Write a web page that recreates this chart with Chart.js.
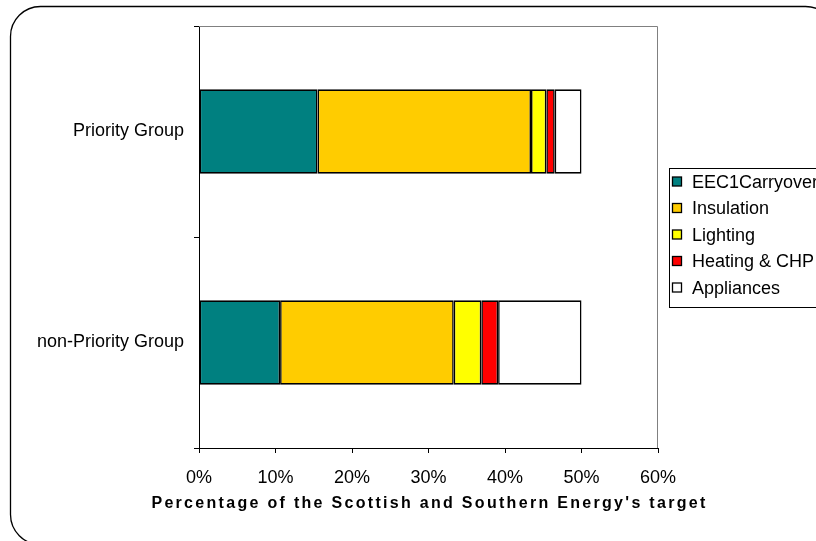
<!DOCTYPE html>
<html>
<head>
<meta charset="utf-8">
<script src="https://cdn.jsdelivr.net/npm/chart.js@4"></script>
<style>
  html, body { margin: 0; padding: 0; background: #fff; }
  canvas { display: block; }
</style>
</head>
<body>
<canvas id="energyChart" width="816" height="541"></canvas>
<script>
// categories (top to bottom)
const groups = ['Priority Group', 'non-Priority Group'];

// series values, % of target
const carryover  = [15.5, 10.6];
const insulation = [27.9, 22.7];
const lighting   = [2.0, 3.6];
const heating    = [1.1, 2.2];
const appliances = [3.5, 10.9];

const seriesNames = ['EEC1Carryover', 'Insulation', 'Lighting', 'Heating & CHP', 'Appliances'];
const seriesColors = ['#008080', '#FFCC00', '#FFFF00', '#FF0000', '#FFFFFF'];

const xTickLabels = ['0%', '10%', '20%', '30%', '40%', '50%', '60%'];
const xTitle = "Percentage of the Scottish and Southern Energy's target";

const FONT = '"Liberation Sans", Arial, sans-serif';

const frame = {
  id: 'frame',
  afterDraw(chart) {
    const c = chart.ctx;
    const a = chart.chartArea;
    c.save();

    // gray plot border, top and right
    c.strokeStyle = '#808080';
    c.lineWidth = 1;
    c.beginPath();
    c.moveTo(a.left, a.top + 0.5);
    c.lineTo(a.right - 0.5, a.top + 0.5);
    c.lineTo(a.right - 0.5, a.bottom);
    c.stroke();

    // axis title
    c.fillStyle = '#000';
    c.font = 'bold 16px ' + FONT;
    c.letterSpacing = '2.3px';
    c.textAlign = 'center';
    c.textBaseline = 'middle';
    c.fillText(xTitle, (a.left + a.right) / 2 + 1, 504);
    c.letterSpacing = '0px';

    // legend
    c.strokeStyle = '#000';
    c.strokeRect(669.5, 168.5, 200, 139);
    c.font = '18px ' + FONT;
    c.textAlign = 'left';
    chart.data.datasets.forEach((ds, i) => {
      const y = 183 + i * 26.5;
      c.fillStyle = ds.backgroundColor;
      c.fillRect(672.5, y - 6, 9, 9);
      c.lineWidth = 1.3;
      c.strokeRect(672.5, y - 6, 9, 9);
      c.fillStyle = '#000';
      c.fillText(ds.label, 692, y);
    });

    // rounded outer border
    c.lineWidth = 1.3;
    c.beginPath();
    c.roundRect(10.5, 6.5, 825, 538, 30);
    c.stroke();
    c.restore();
  }
};

const allValues = [carryover, insulation, lighting, heating, appliances];

new Chart(document.getElementById('energyChart'), {
  type: 'bar',
  data: {
    labels: groups,
    datasets: allValues.map((vals, i) => ({
      label: seriesNames[i],
      data: vals,
      backgroundColor: seriesColors[i],
      borderColor: '#000',
      borderWidth: 1.6,
      borderSkipped: false,
      barPercentage: 0.4,
      categoryPercentage: 1
    }))
  },
  options: {
    indexAxis: 'y',
    responsive: false,
    animation: false,
    devicePixelRatio: 1,
    layout: { padding: { left: 0, right: 158, top: 26, bottom: 0 } },
    plugins: {
      legend: { display: false },
      tooltip: { enabled: false }
    },
    scales: {
      x: {
        stacked: true,
        min: 0,
        max: 60,
        ticks: {
          stepSize: 10,
          color: '#000',
          padding: 14,
          maxRotation: 0,
          font: { family: FONT, size: 18 },
          callback: (v, i) => xTickLabels[i]
        },
        grid: { drawOnChartArea: false, drawTicks: true, tickLength: 5, color: '#000' },
        border: { color: '#000', width: 1 },
        afterFit: s => { s.height = 93; }
      },
      y: {
        stacked: true,
        ticks: {
          color: '#000',
          padding: 10,
          font: { family: FONT, size: 18 }
        },
        grid: { drawOnChartArea: false, drawTicks: true, tickLength: 5, color: '#000', offset: true },
        border: { color: '#000', width: 1 },
        afterFit: s => { s.width = 199; }
      }
    }
  },
  plugins: [frame]
});
</script>
</body>
</html>
